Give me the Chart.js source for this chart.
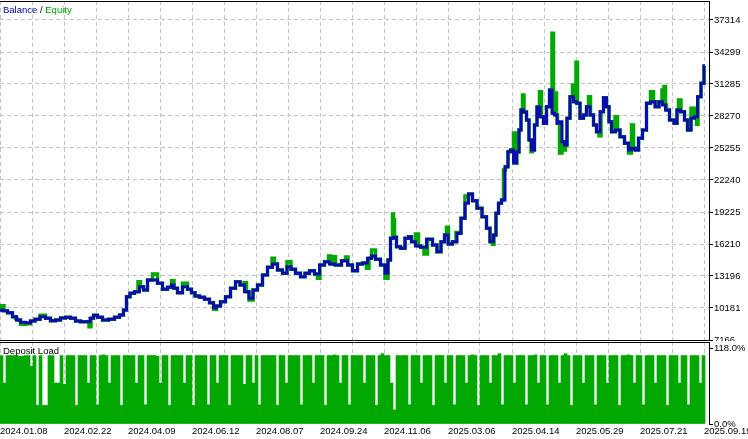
<!DOCTYPE html>
<html>
<head>
<meta charset="utf-8">
<script src="https://cdn.jsdelivr.net/npm/chart.js@4/dist/chart.umd.min.js"></script>
<style>
    html, body { margin: 0; background: #fff; }
    #wrap { position: relative; width: 748px; height: 439px; overflow: hidden; }
    canvas { position: absolute; left: 0; }
    .cap { position: absolute; left: 3px; font: 9.5px 'Liberation Sans', Arial, sans-serif; line-height: 12px; white-space: nowrap; color: #000; }
</style>
</head>
<body>
<div id="wrap">
    <canvas id="balChart" width="748" height="341" style="top:0"></canvas>
    <canvas id="loadChart" width="748" height="98" style="top:341px"></canvas>
    <div class="cap" style="top:4px"><span style="color:#0000a0">Balance</span> / <span style="color:#00a000">Equity</span></div>
    <div class="cap" style="top:345px">Deposit Load</div>
</div>
<script>
// balance curve: deal index -> balance
const balPos = [0,5,10,15,18,23,28,33,37,43,48,53,58,63,68,73,78,83,88,92,95,100,105,112,117,122,125,128,132,137,142,145,150,155,160,165,170,173,175,180,185,190,193,197,202,207,212,215,218,223,228,233,238,242,247,251,255,260,265,270,275,280,285,289,293,298,303,307,312,317,322,327,332,338,345,350,355,360,365,370,373,378,383,387,389,392,395,398,403,407,410,413,418,423,430,435,439,443,446,450,455,459,463,467,470,475,479,485,488,492,495,497,500,503,507,509,512,515,518,520,522,525,528,530,533,536,538,542,545,548,551,553,556,558,561,563,566,568,572,575,578,582,585,588,592,595,598,602,605,608,610,613,618,622,627,630,633,637,640,645,648,653,657,661,664,667,672,676,678,683,686,689,693,696,699,703,705];
const balance = [9993,9927,9738,9361,9050,8834,8796,8956,9116,9361,9211,8984,9050,9239,9305,9211,8956,8890,8890,9211,9493,9305,9050,9116,9305,9522,9993,11246,11566,11717,12188,11877,12819,12819,12508,11943,12131,12348,12037,11623,12188,11943,11623,11312,11189,11001,10680,10209,10369,10775,11246,12037,12659,12348,11717,11095,11877,12348,13290,14016,14327,13761,13451,14072,13827,13451,13130,13451,13695,13385,14233,14543,14327,14233,14638,14233,13695,14327,14421,14864,15080,14770,14233,13451,14704,16748,16842,15957,15806,16748,16899,16428,16023,15900,16654,16117,15486,16428,17059,16211,16428,17219,18633,20046,20922,20291,19575,18783,17690,16428,17059,19104,20046,20357,23494,24908,25068,23843,24879,26952,28837,28648,27894,26010,25068,27423,29119,28205,27583,29148,30721,28526,28366,27583,27734,25850,25539,28055,30090,29619,29468,28055,28366,29148,28366,27423,26792,28677,29996,29148,27734,26792,26952,26321,25699,25068,25228,25068,26170,26952,29468,29619,29148,29619,29308,28837,27894,27583,28837,28677,27894,26952,28055,28205,30090,31352,32982];

// equity curve: deal index -> equity
const eqPos = [0,3,5,10,15,16,18,23,28,33,37,43,48,53,58,63,68,73,78,83,88,90,92,95,100,105,112,117,122,125,128,132,137,139,142,145,150,155,160,165,170,173,175,180,185,190,193,197,202,207,212,215,218,223,228,233,238,242,246,247,251,255,260,265,270,274,275,280,285,289,293,298,303,307,312,317,318,322,327,330,332,333,338,345,346,350,355,360,365,368,370,373,378,383,387,389,392,393,394,395,398,403,407,410,413,418,419,423,425,430,435,439,443,446,447,450,455,457,459,463,467,470,475,479,485,488,492,493,495,497,500,503,504,507,509,512,515,516,518,520,522,523,525,528,530,532,533,536,538,541,542,545,548,551,553,554,556,557,558,561,563,565,566,568,572,573,575,577,578,582,585,588,589,592,595,598,600,602,605,608,610,613,617,618,622,627,630,633,634,637,640,645,648,653,654,657,661,663,665,666,667,672,676,678,679,683,686,689,693,696,697,699,703,705];
const equity = [9993,10400,9927,9738,9361,9200,9050,8650,8700,8956,9116,9500,9211,8984,9050,9239,9305,9211,8956,8890,8890,8420,9211,9493,9305,9050,9116,9305,9522,9993,11246,11566,11717,12659,12188,11877,12819,13385,12508,11943,12131,12753,12037,11623,12508,11943,11623,11312,11189,11001,10680,10059,10369,10775,11246,12037,12659,12348,12565,11717,10935,11877,12348,13290,14016,14864,14327,13761,13451,14543,13827,13451,13130,13451,13695,13385,12980,14233,14543,15080,14327,15000,14233,14638,14980,14233,13695,14327,14421,13922,14864,15646,14770,14233,12980,14704,16748,19038,18500,16842,15957,15806,16748,16899,16428,17153,16023,15900,15269,16654,16117,15486,16428,17059,17784,16211,16428,17300,17219,18633,20734,20922,20291,19575,18783,17690,16428,16183,17059,19104,20046,20357,23183,23494,24908,25068,26670,23843,24879,26952,28837,30250,28648,27894,26010,24908,25068,27423,29119,30560,28205,27583,29148,30721,36064,28526,30440,28366,27583,24786,25850,25068,25539,28055,30090,31190,29619,33330,29468,28055,28366,29148,30090,28366,27423,26792,26400,28677,29996,29148,27734,26792,28205,26952,26321,25699,24790,27423,25228,25068,26170,26952,29468,30560,29619,29148,29619,30721,31051,29308,28837,27894,27583,28837,29779,28677,27894,26952,29000,28205,27500,30090,31352,32982];

// deposit load, %, one value per slot
const loads = [
    107,64,107,107,107,107,106,106,107,107,90,107,29,107,29,29,107,107,64,64,107,62,107,107,107,29,107,107,107,64,
    107,107,30,107,108,107,64,107,107,107,29,107,107,107,107,64,107,107,30,107,107,107,106,64,107,107,29,107,107,107,
    107,64,107,107,29,107,107,107,107,30,107,107,64,107,107,107,29,107,107,107,107,62,107,107,64,107,30,107,107,107,
    107,107,29,107,107,64,107,107,107,107,30,107,107,107,64,107,107,107,29,107,107,108,107,64,107,107,30,107,107,107,
    107,64,107,107,107,29,107,110,107,107,64,22,107,107,107,107,30,107,107,107,64,107,107,107,29,107,107,107,64,107,
    107,30,107,107,107,64,107,108,107,29,107,107,107,64,107,107,110,30,107,107,107,64,107,107,107,30,107,107,108,64,
    107,107,30,107,107,107,64,107,110,107,29,107,107,107,64,107,107,107,30,107,107,107,64,107,107,107,29,107,107,108,
    107,64,107,107,30,107,107,107,64,107,107,107,29,107,107,107,64,107,107,30,107,107,107,64,107
];

const balTicks  = [7166, 10181, 13196, 16210, 19225, 22240, 25255, 28270, 31285, 34299, 37314];
const loadTicks = [0, 118];
const dateLabels = ['2024.01.08','2024.02.22','2024.04.09','2024.06.12','2024.08.07','2024.09.24',
                    '2024.11.06','2025.03.06','2025.04.14','2025.05.29','2025.07.21','2025.09.19'];

const GRID  = '#c4c4c4';
const BLUE  = '#0c0cac';
const GREEN = '#00a800';
const SLOT  = 3;
const gridTicks = Array.from({ length: 23 }, (_, k) => k * 32);

Chart.defaults.font.family = "'Liberation Sans', Arial, sans-serif";
Chart.defaults.font.size = 9.5;
Chart.defaults.color = '#000';

const frame = {
    id: 'frame',
    afterDatasetsDraw(chart, args, opts) {
        const { ctx, chartArea: a } = chart;
        ctx.save();
        ctx.strokeStyle = '#000';
        ctx.lineWidth = 1;
        ctx.beginPath();
        opts.edges.forEach(edge => {
            const y = Math.floor(edge === 'top' ? a.top : a.bottom) + 0.5;
            ctx.moveTo(0, y);
            ctx.lineTo(a.right, y);
        });
        ctx.stroke();
        ctx.restore();
    }
};

function xScale(height, showLabels) {
    return {
        type: 'linear',
        min: 0,
        max: 709,
        offset: false,
        afterBuildTicks: s => { s.ticks = gridTicks.map(v => ({ value: v })); },
        afterFit: s => { s.height = height; s.paddingLeft = 0; s.paddingRight = 0; },
        grid: { color: GRID, drawTicks: false, offset: false },
        border: { display: false, dash: [4, 3] },
        ticks: {
            display: showLabels,
            autoSkip: false,
            maxRotation: 0,
            align: 'start',
            padding: 2,
            callback: (v, i) => (i % 2 ? '' : dateLabels[i / 2])
        }
    };
}

function yFit(s) {
    s.width = 39;
    s.paddingTop = 0;
    s.paddingBottom = 0;
}

const common = {
    responsive: false,
    animation: false,
    events: [],
    layout: { padding: { top: 1 }, autoPadding: false }
};

new Chart(document.getElementById('balChart'), {
    type: 'line',
    data: {
        datasets: [
            {
                label: 'Balance',
                data: balPos.map((x, i) => ({ x, y: balance[i] })),
                borderColor: BLUE,
                borderWidth: 3,
                borderJoinStyle: 'miter',
                stepped: 'middle',
                pointRadius: 0
            },
            {
                label: 'Equity',
                data: eqPos.map((x, i) => ({ x, y: equity[i] })),
                borderColor: GREEN,
                borderWidth: 3.5,
                borderJoinStyle: 'miter',
                stepped: 'middle',
                pointRadius: 0
            }
        ]
    },
    options: {
        ...common,
        plugins: { legend: { display: false }, tooltip: { enabled: false }, frame: { edges: ['top', 'bottom'] } },
        scales: {
            x: xScale(1, false),
            y: {
                position: 'right',
                min: 7166,
                max: 39104,
                afterBuildTicks: s => { s.ticks = balTicks.map(v => ({ value: v })); },
                afterFit: yFit,
                grid: { color: GRID, tickColor: '#000', tickLength: 4, tickBorderDash: [] },
                border: { display: true, color: '#000', width: 1, dash: [4, 3] },
                ticks: { padding: 1, callback: v => String(v) }
            }
        }
    },
    plugins: [frame]
});

new Chart(document.getElementById('loadChart'), {
    type: 'bar',
    data: {
        datasets: [{
            label: 'Deposit Load',
            data: loads.map((v, i) => ({ x: i * SLOT + SLOT / 2, y: v })),
            backgroundColor: GREEN,
            borderWidth: 0,
            barPercentage: 1,
            categoryPercentage: 1
        }]
    },
    options: {
        ...common,
        plugins: { legend: { display: false }, tooltip: { enabled: false }, frame: { edges: ['top'] } },
        scales: {
            x: xScale(15, true),
            y: {
                position: 'right',
                min: 0,
                max: 128.2,
                afterBuildTicks: s => { s.ticks = loadTicks.map(v => ({ value: v })); },
                afterFit: yFit,
                grid: { drawOnChartArea: false, tickColor: '#000', tickLength: 4 },
                border: { display: true, color: '#000', width: 1 },
                ticks: { padding: 1, callback: v => v.toFixed(1) + '%' }
            }
        }
    },
    plugins: [frame]
});
</script>
</body>
</html>
